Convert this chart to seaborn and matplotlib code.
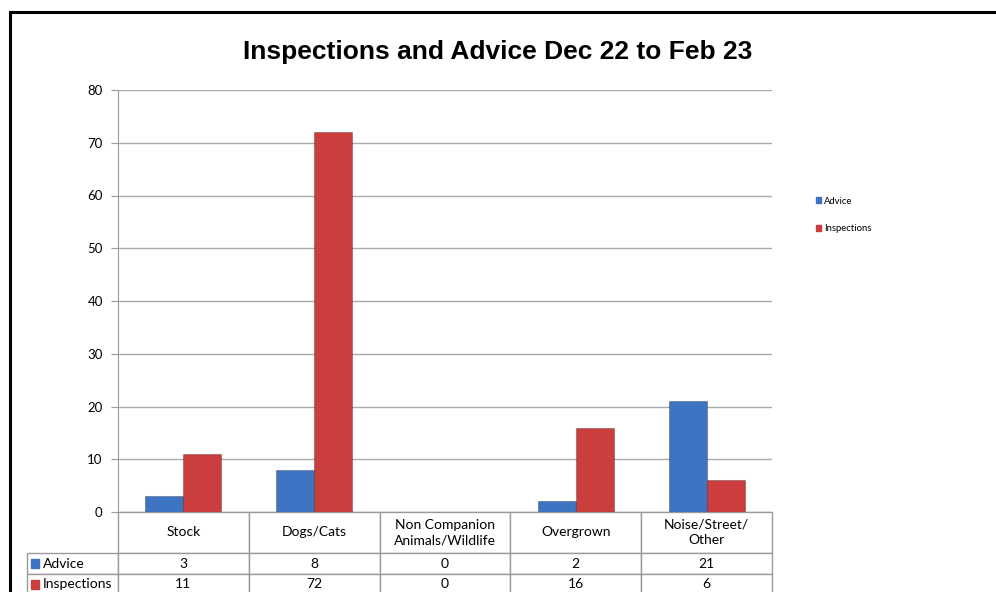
import pandas as pd
import seaborn as sns
import matplotlib.pyplot as plt
from matplotlib.patches import Rectangle

categories = ["Stock", "Dogs/Cats", "Non Companion\nAnimals/Wildlife", "Overgrown", "Noise/Street/\nOther"]
advice = [3, 8, 0, 2, 21]
inspections = [11, 72, 0, 16, 6]
series = ["Advice", "Inspections"]
colors = {"Advice": "#3D75C2", "Inspections": "#CC3D3D"}

df = pd.DataFrame({
    "category": categories * 2,
    "series": ["Advice"] * len(categories) + ["Inspections"] * len(categories),
    "value": advice + inspections,
})

sns.set_style("white")
plt.rcParams["font.family"] = ["Lato", "DejaVu Sans"]
plt.rcParams["text.color"] = "black"
plt.rcParams["ytick.labelcolor"] = "black"

W, H = 996, 592
fig = plt.figure(figsize=(9.96, 5.92), dpi=100)
ax = fig.add_axes([118 / W, 1 - 512 / H, (772 - 118) / W, (512 - 90) / H])

sns.barplot(data=df, x="category", y="value", hue="series", hue_order=series,
            palette=colors, width=0.58, ax=ax, edgecolor="none", saturation=1)

ax.set_ylim(0, 80)
ax.set_yticks(range(0, 81, 10))
ax.set_xlim(-0.5, 4.5)
ax.set_xticks([])
ax.set_xlabel("")
ax.set_ylabel("")
ax.yaxis.grid(True, color="#ABABAB", lw=1)
ax.set_axisbelow(True)
for s in ["top", "right", "bottom"]:
    ax.spines[s].set_visible(False)
ax.spines["left"].set_color("#9A9A9A")
ax.tick_params(axis="y", length=5, color="#9A9A9A", labelsize=9.5, left=True,
               pad=6, labelcolor="black")

# darker rim on bars for a bit of depth
for bar in ax.patches:
    bar.set_edgecolor((0, 0, 0, 0.25))
    bar.set_linewidth(0.8)

ax.legend_.remove()
leg = fig.legend(handles=[Rectangle((0, 0), 1, 1, color=colors[s]) for s in series],
                 labels=series, loc="upper left",
                 bbox_to_anchor=(807 / W, 1 - 188 / H), frameon=False,
                 fontsize=6.8, handlelength=0.6, handleheight=0.6,
                 handletextpad=0.3, labelspacing=1.95)

fig.suptitle("Inspections and Advice Dec 22 to Feb 23", x=0.5, y=1 - 40 / H,
             fontsize=19, fontweight="bold", family="Liberation Sans", color="black")

# data table under the plot
cell_text = [["", *categories],
             ["Advice", *[str(v) for v in advice]],
             ["Inspections", *[str(v) for v in inspections]]]
label_w = 91 / 654
col_w = 1 / 5
tab_h = 83 / 422
tbl = ax.table(cellText=cell_text, colWidths=[label_w] + [col_w] * 5,
               cellLoc="center", bbox=[-label_w, -tab_h, 1 + label_w, tab_h])
tbl.auto_set_font_size(False)
tbl.set_fontsize(10)
for (r, c), cell in tbl.get_celld().items():
    cell.set_edgecolor("#9A9A9A")
    cell.set_linewidth(1)
    cell.get_text().set_linespacing(1.35)
    if r == 0:
        cell.set_height(cell.get_height() * 41 / 21)
    if c == 0:
        cell.get_text().set_ha("left")
        cell.PAD = 0.17
        if r == 0:
            cell.visible_edges = ""
ax.add_patch(Rectangle((-label_w + 4 / 654, -(41 + 15) / 422), 8 / 654, 9 / 422,
                       transform=ax.transAxes, clip_on=False, color=colors["Advice"]))
ax.add_patch(Rectangle((-label_w + 4 / 654, -(41 + 21 + 15) / 422), 8 / 654, 9 / 422,
                       transform=ax.transAxes, clip_on=False, color=colors["Inspections"]))

# chart border
fig.patches.append(Rectangle((10 / W, -0.1), 1.2, 1 - 12 / H + 0.1, fill=False,
                             lw=2.2, edgecolor="black", transform=fig.transFigure))

fig.savefig("out.png", dpi=100)
